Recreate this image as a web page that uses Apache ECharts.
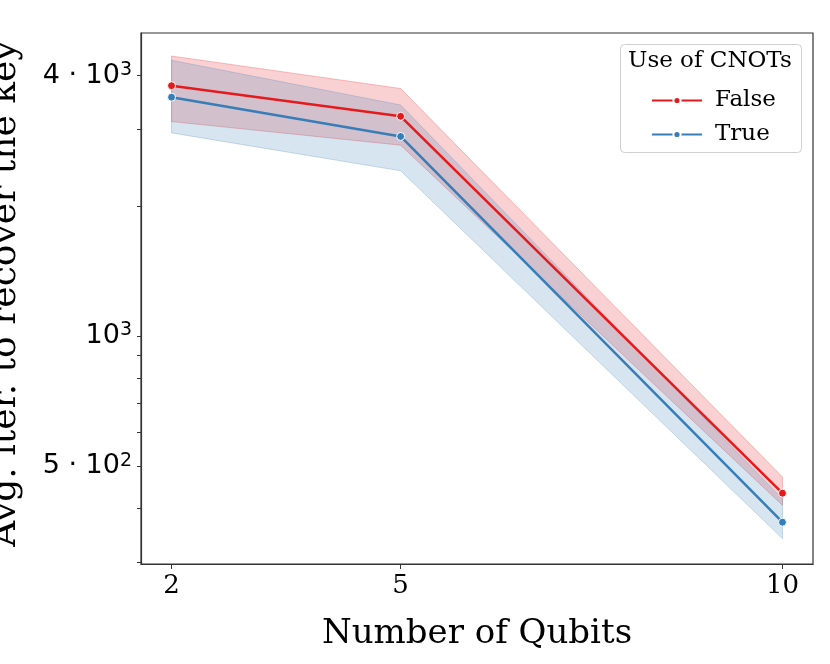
<!DOCTYPE html>
<html>
<head>
<meta charset="utf-8">
<script src="https://cdn.jsdelivr.net/npm/echarts@6/dist/echarts.min.js"></script>
<style>html,body{margin:0;padding:0;background:#fff}#c{width:830px;height:664px}</style>
</head>
<body>
<div id="c"></div>
<script>
const qubits = [2, 5, 10];
const falseMean = [3790, 3220, 433];
const falseLow = [3131, 2761, 406];
const falseHigh = [4439, 3733, 472];
const trueMean = [3565, 2892, 371];
const trueLow = [2948, 2409, 340];
const trueHigh = [4339, 3420, 420];
const xTicks = [2, 5, 10];
const yTicks = [300, 400, 500, 600, 700, 800, 900, 1000, 2000, 3000, 4000];
const yLabels = {500: ['5 · 10', '2'], 1000: ['10', '3'], 4000: ['4 · 10', '3']};

const RED = '#e41a1c', BLUE = '#377eb8';
const serif = 'DejaVu Serif';

function band(name, low, high, fill, stroke) {
  return {
    type: 'custom', name: name + '_band', silent: true, z: 1,
    data: qubits.map((q, i) => [q, low[i], high[i]]),
    renderItem: function (params, api) {
      if (params.dataIndex !== 0) return {type: 'group', children: []};
      const pts = [];
      for (let i = 0; i < qubits.length; i++) pts.push(api.coord([qubits[i], high[i]]));
      for (let i = qubits.length - 1; i >= 0; i--) pts.push(api.coord([qubits[i], low[i]]));
      return {type: 'polygon', shape: {points: pts}, style: {fill: fill, stroke: stroke, lineWidth: 1}};
    }
  };
}
function line(name, vals, color) {
  return {
    type: 'line', name: name, z: 2,
    data: qubits.map((q, i) => [q, vals[i]]),
    symbol: 'circle', symbolSize: 8, showSymbol: true,
    lineStyle: {color: color, width: 2.5},
    itemStyle: {color: color, borderColor: '#fff', borderWidth: 1},
    emphasis: {disabled: true}
  };
}

const chart = echarts.init(document.getElementById('c'), null, {renderer: 'canvas'});
chart.setOption({
  animation: false,
  backgroundColor: '#fff',
  grid: {left: 141, right: 17, top: 33, bottom: 100, containLabel: false, outerBoundsMode: 'none', show: true, borderColor: '#333', borderWidth: 1.2, backgroundColor: 'transparent'},
  xAxis: {
    type: 'value', min: 1.6, max: 10.4,
    name: 'Number of Qubits', nameLocation: 'middle', nameGap: 53,
    nameTextStyle: {fontFamily: serif, fontSize: 34, color: '#000'},
    axisLine: {show: true, lineStyle: {color: '#333', width: 1.2}},
    axisTick: {show: true, customValues: xTicks, length: 5, lineStyle: {color: '#333'}},
    axisLabel: {customValues: xTicks, fontFamily: serif, fontSize: 26, color: '#000', margin: 9},
    splitLine: {show: false}
  },
  yAxis: {
    type: 'log', logBase: 10, min: 297, max: 5017,
    name: 'Avg. iter. to recover the key', nameLocation: 'middle', nameGap: 117, nameRotate: 90,
    nameTextStyle: {fontFamily: serif, fontSize: 36, color: '#000', padding: [0, 0, 0, 10]},
    axisLine: {show: true, lineStyle: {color: '#333', width: 1.2}},
    axisTick: {show: true, customValues: yTicks, length: 4, lineStyle: {color: '#333'}},
    axisLabel: {
      customValues: [500, 1000, 4000], margin: 9,
      formatter: function (v) {
        const r = Math.round(v);
        const l = yLabels[r];
        return l ? '{b|' + l[0] + '}{s|' + l[1] + '}' : '';
      },
      rich: {
        b: {fontFamily: 'DejaVu Sans', fontSize: 27, color: '#000', lineHeight: 30},
        s: {fontFamily: 'DejaVu Sans', fontSize: 19, color: '#000', verticalAlign: 'top', lineHeight: 18}
      }
    },
    splitLine: {show: false}, minorTick: {show: false}
  },
  legend: {
    data: ['False', 'True'], orient: 'vertical', left: 646, top: 84, z: 6,
    itemWidth: 50, itemHeight: 9, itemGap: 11,
    textStyle: {fontFamily: serif, fontSize: 23, color: '#000', lineHeight: 22, padding: [0, 0, 0, 8]}
  },
  graphic: [
    {type: 'rect', left: 620, top: 44, z: 3, shape: {width: 181, height: 108, r: 4}, style: {fill: 'rgba(255,255,255,0.8)', stroke: '#d0d0d0', lineWidth: 1}, silent: true},
    {type: 'text', left: 628, top: 50, z: 7, style: {text: 'Use of CNOTs', font: '23px "DejaVu Serif"', fill: '#000'}, silent: true}
  ],
  series: [
    band('False', falseLow, falseHigh, 'rgba(228,26,28,0.2)', 'rgba(228,26,28,0.25)'),
    band('True', trueLow, trueHigh, 'rgba(55,126,184,0.2)', 'rgba(55,126,184,0.25)'),
    line('False', falseMean, RED),
    line('True', trueMean, BLUE)
  ]
});
</script>
</body>
</html>
